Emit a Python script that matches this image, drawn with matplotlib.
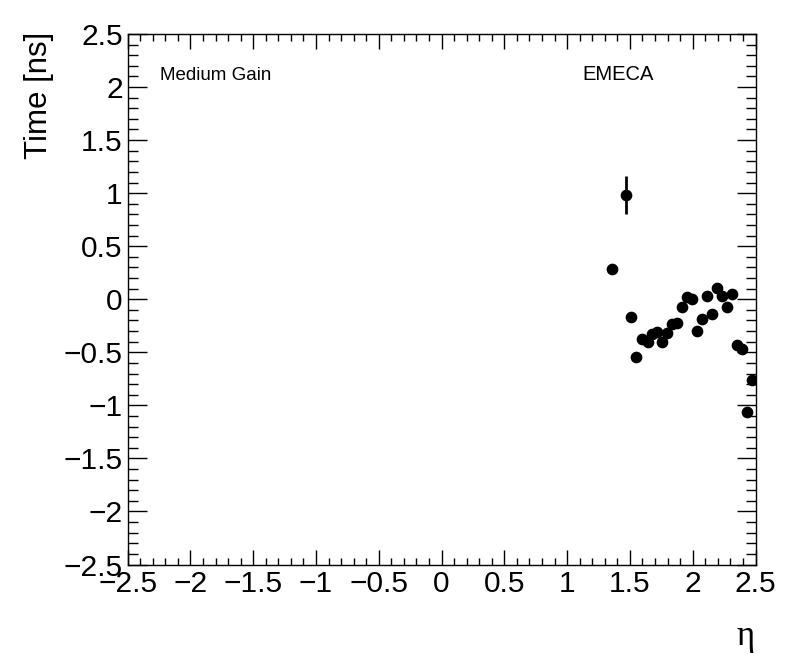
import matplotlib
matplotlib.use("Agg")
import matplotlib.pyplot as plt
from matplotlib.ticker import MultipleLocator, FuncFormatter

# Data
eta = [1.354, 1.471, 1.510, 1.552, 1.595, 1.640, 1.679, 1.719, 1.759, 1.798,
       1.838, 1.878, 1.917, 1.957, 1.997, 2.037, 2.076, 2.116, 2.156, 2.195,
       2.235, 2.275, 2.314, 2.354, 2.394, 2.433, 2.473]
time_ns = [0.283, 0.980, -0.167, -0.547, -0.377, -0.400, -0.327, -0.308, -0.405, -0.320,
           -0.236, -0.226, -0.075, 0.022, 0.000, -0.302, -0.188, 0.028, -0.141, 0.107,
           0.028, -0.075, 0.050, -0.434, -0.466, -1.065, -0.763]
time_err = [0.02, 0.18, 0.02, 0.02, 0.02, 0.02, 0.02, 0.02, 0.02, 0.02,
            0.02, 0.02, 0.02, 0.02, 0.02, 0.02, 0.02, 0.02, 0.02, 0.02,
            0.02, 0.02, 0.02, 0.02, 0.02, 0.02, 0.02]

x_label = "η"
y_label = "Time [ns]"
gain_label = "Medium Gain"
region_label = "EMECA"

plt.rcParams['font.family'] = ['Liberation Sans', 'DejaVu Sans']

W, H = 796, 672
fig = plt.figure(figsize=(W / 100, H / 100), dpi=100)
left, right, bottom, top = 127.7, 755.5, 564.5, 34.0
ax = fig.add_axes([left / W, 1 - bottom / H, (right - left) / W, (bottom - top) / H])

ax.errorbar(eta, time_ns, yerr=time_err, fmt='o', color='black', ms=7.4,
            elinewidth=2, capsize=0, zorder=3)

ax.set_xlim(-2.5, 2.5)
ax.set_ylim(-2.5, 2.5)
ax.xaxis.set_major_locator(MultipleLocator(0.5))
ax.xaxis.set_minor_locator(MultipleLocator(0.1))
ax.yaxis.set_major_locator(MultipleLocator(0.5))
ax.yaxis.set_minor_locator(MultipleLocator(0.1))


def fmt(v, pos):
    s = ('%g' % round(v, 3))
    return s.replace('-', '\u2212')


ax.xaxis.set_major_formatter(FuncFormatter(fmt))
ax.yaxis.set_major_formatter(FuncFormatter(fmt))

ax.tick_params(axis='both', which='both', direction='in', top=True, right=True,
               width=1, colors='black', labelsize=21.5)
ax.tick_params(axis='x', which='major', length=10.8, pad=4)
ax.tick_params(axis='x', which='minor', length=5)
ax.tick_params(axis='y', which='major', length=13.7, pad=3.6)
ax.tick_params(axis='y', which='minor', length=7)
for sp in ax.spines.values():
    sp.set_linewidth(1)

fig.text(38.5 / W, 1 - 32 / H, y_label, rotation=90, ha='center', va='top',
         fontsize=22.5)
fig.text(755 / W, 1 - 645 / H, x_label, ha='right', va='baseline',
         fontsize=25, family=['Liberation Serif', 'DejaVu Serif'])
fig.text(160 / W, 1 - 80 / H, gain_label, ha='left', va='baseline', fontsize=13.5)
fig.text(582 / W, 1 - 80 / H, region_label, ha='left', va='baseline', fontsize=14.5)

fig.savefig("out.png", dpi=100)
